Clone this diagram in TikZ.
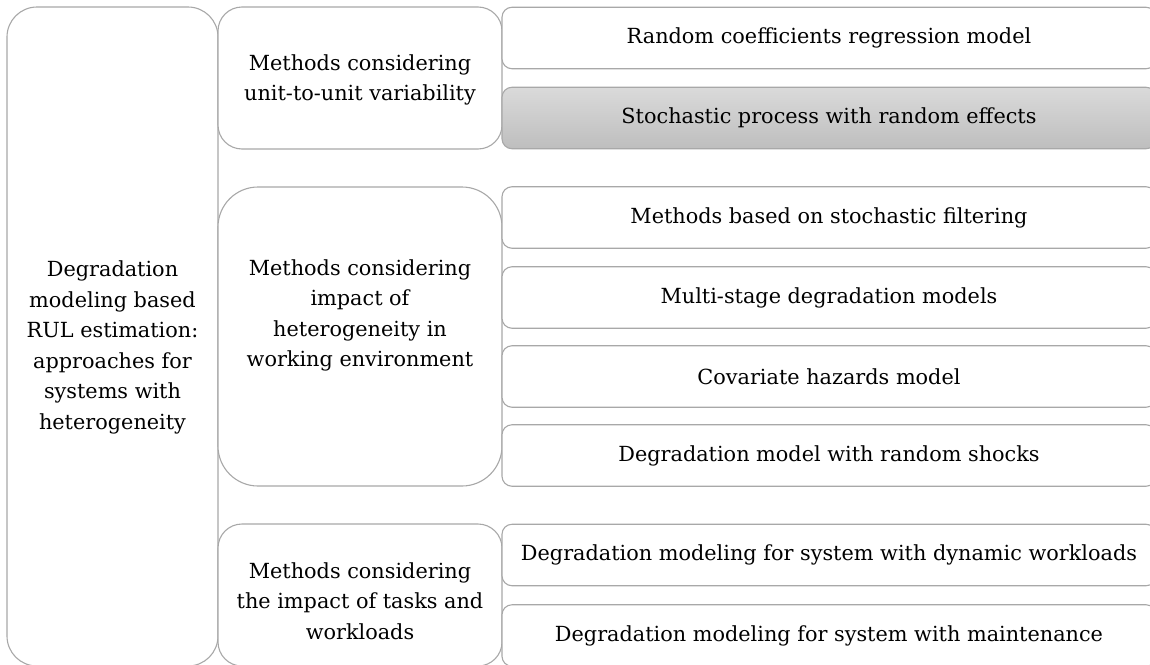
\documentclass[tikz,border=0pt]{standalone}
\usepackage{fontspec}
\setmainfont{DejaVu Serif}
\usepackage{tikz}
\usetikzlibrary{positioning}

\definecolor{edgegray}{RGB}{168,168,168}
\definecolor{shadetop}{RGB}{218,218,218}
\definecolor{shadebot}{RGB}{190,190,190}

\begin{document}
\begin{tikzpicture}[x=1pt, y=-1pt,
    every node/.style={font={\fontsize{20.8pt}{30.5pt}\selectfont}, align=center, inner sep=0pt},
    rootbox/.style={draw=edgegray, line width=1.1pt, fill=white, rounded corners=30pt,
        minimum width=211pt, minimum height=659pt},
    midbox/.style={draw=edgegray, line width=1.1pt, fill=white, rounded corners=#1,
        minimum width=284pt},
    leaf/.style={draw=edgegray, line width=1.1pt, fill=white, rounded corners=10pt,
        minimum width=654pt, minimum height=61.5pt},
    leafshade/.style={leaf, top color=shadetop, bottom color=shadebot}]
    \useasboundingbox (0,0) rectangle (1150,664);
    \clip (0,0) rectangle (1150,664);

    % left column
    \node[rootbox] (root) at (112.5,336.5) {};
    \node (roottxt) at ([yshift=-11pt]root.center)
        {Degradation\\modeling based\\RUL estimation:\\approaches for\\systems with\\heterogeneity};

    % middle column
    \node[midbox=24pt, minimum height=142pt] (unit) at (360,78) {};
    \node (unittxt) at ([yshift=-2pt]unit.center) {Methods considering\\unit-to-unit variability};
    \node[midbox=40pt, minimum height=299pt] (env) at (360,336.5) {};
    \node (envtxt) at ([yshift=21pt]env.center)
        {Methods considering\\impact of\\heterogeneity in\\working environment};
    \node[midbox=24pt, minimum height=142pt] (task) at (360,595) {};
    \node (tasktxt) at ([yshift=-6pt]task.center)
        {Methods considering\\the impact of tasks and\\workloads};

    % right column
    \foreach \yy/\sty/\txt [count=\i] in {
        38/leaf/Random coefficients regression model,
        118/leafshade/Stochastic process with random effects,
        217.5/leaf/Methods based on stochastic filtering,
        297.5/leaf/Multi-stage degradation models,
        376.5/leaf/Covariate hazards model,
        455.5/leaf/Degradation model with random shocks,
        555/leaf/Degradation modeling for system with dynamic workloads,
        635.5/leaf/Degradation modeling for system with maintenance} {
        \node[\sty] (m\i) at (829,\yy) {\txt};
    }
\end{tikzpicture}
\end{document}
